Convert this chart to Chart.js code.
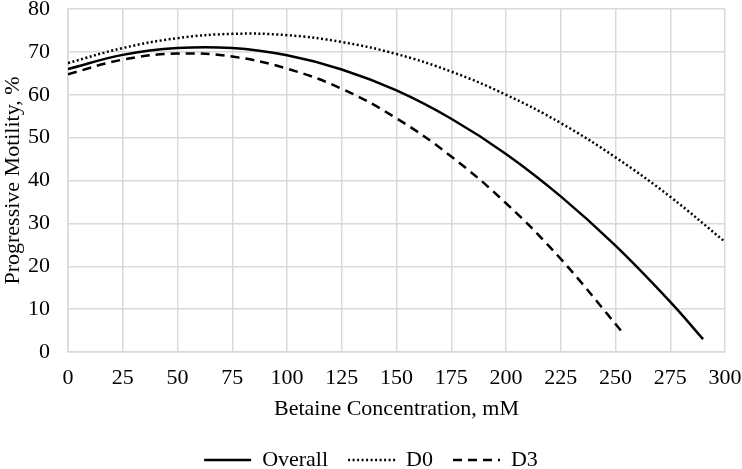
<!DOCTYPE html>
<html>
<head>
<meta charset="utf-8">
<script src="https://cdn.jsdelivr.net/npm/chart.js@4"></script>
<style>
  html, body { margin: 0; padding: 0; background: #fff; }
  #wrap { width: 742px; height: 469px; }
</style>
</head>
<body>
<div id="wrap"><canvas id="myChart" width="742" height="469"></canvas></div>
<script>
// values
const xOverall = [0, 25, 50, 75, 100, 125, 150, 175, 200, 225, 250, 275, 290]
const yOverall = [66.0, 69.3, 70.9, 70.9, 69.2, 65.9, 61.0, 54.4, 46.2, 36.3, 24.8, 11.7, 3.0]

const xD0 = [0, 25, 50, 75, 100, 125, 150, 175, 200, 225, 250, 275, 300]
const yD0 = [67.4, 70.9, 73.2, 74.2, 73.9, 72.3, 69.5, 65.4, 60.0, 53.4, 45.4, 36.2, 25.7]

const xD3 = [0, 25, 50, 75, 100, 125, 150, 175, 200, 225, 253]
const yD3 = [64.8, 68.2, 69.6, 68.9, 66.1, 61.4, 54.5, 45.6, 34.7, 21.7, 4.7]

function pts(xs, ys) {
    return xs.map((x, i) => ({ x: x, y: ys[i] }))
}

const font = "'Liberation Serif', 'Times New Roman', serif"
const fontSize = 22
const gridColor = '#d9d9d9'

// keep the legend box short so the plot reaches down like the original
const legendHeight = {
    id: 'legendHeight',
    beforeLayout(chart) {
        const lg = chart.legend
        if (lg && !lg._short) {
            const fit = lg.fit
            lg.fit = function () {
                fit.call(this)
                this.height = 40
            }
            lg._short = true
        }
    }
}

const data = {
    datasets: [{
        label: 'Overall',
        data: pts(xOverall, yOverall),
        borderColor: '#000',
        borderWidth: 2.5,
        pointRadius: 0,
        tension: 0.4
    },
    {
        label: 'D0',
        data: pts(xD0, yD0),
        borderColor: '#000',
        borderWidth: 2.5,
        borderDash: [2, 2.5],
        pointRadius: 0,
        tension: 0.4
    },
    {
        label: 'D3',
        data: pts(xD3, yD3),
        borderColor: '#000',
        borderWidth: 2.5,
        borderDash: [9, 6],
        pointRadius: 0,
        tension: 0.4
    }]
}

const config = {
    type: 'line',
    data,
    plugins: [legendHeight],
    options: {
        responsive: false,
        animation: false,
        layout: { padding: 0 },
        plugins: {
            tooltip: { enabled: false },
            legend: {
                position: 'bottom',
                labels: {
                    font: { family: font, size: fontSize },
                    color: '#000',
                    usePointStyle: true,
                    pointStyle: 'line',
                    pointStyleWidth: 47,
                    padding: 20,
                    generateLabels: function (chart) {
                        const items = Chart.defaults.plugins.legend.labels.generateLabels(chart)
                        items.forEach(item => {
                            const ds = chart.data.datasets[item.datasetIndex]
                            item.lineDash = ds.borderDash || []
                            item.lineWidth = ds.borderWidth
                            item.strokeStyle = ds.borderColor
                        })
                        return items
                    }
                }
            }
        },
        scales: {
            x: {
                type: 'linear',
                min: 0,
                max: 300,
                ticks: {
                    stepSize: 25,
                    font: { family: font, size: fontSize },
                    color: '#000',
                    padding: 13
                },
                grid: { color: gridColor, lineWidth: 1.5, drawTicks: false },
                border: { color: gridColor, width: 1.5 },
                title: {
                    display: true,
                    text: 'Betaine Concentration, mM',
                    font: { family: font, size: fontSize },
                    color: '#000',
                    padding: { top: 0, bottom: 7 }
                },
                afterFit: function (scale) {
                    scale.height = 77
                    scale.paddingRight = 17
                }
            },
            y: {
                min: 0,
                max: 80,
                ticks: {
                    stepSize: 10,
                    font: { family: font, size: fontSize },
                    color: '#000',
                    padding: 18
                },
                grid: { color: gridColor, lineWidth: 1.5, drawTicks: false },
                border: { color: gridColor, width: 1.5 },
                title: {
                    display: true,
                    text: 'Progressive Motility, %',
                    font: { family: font, size: fontSize },
                    color: '#000',
                    padding: { top: 0, bottom: 4 }
                },
                afterFit: function (scale) {
                    scale.width = 68
                    scale.paddingTop = 9
                }
            }
        }
    }
}

const ctx = document.getElementById('myChart').getContext('2d')
const myChart = new Chart(ctx, config)
</script>
</body>
</html>
